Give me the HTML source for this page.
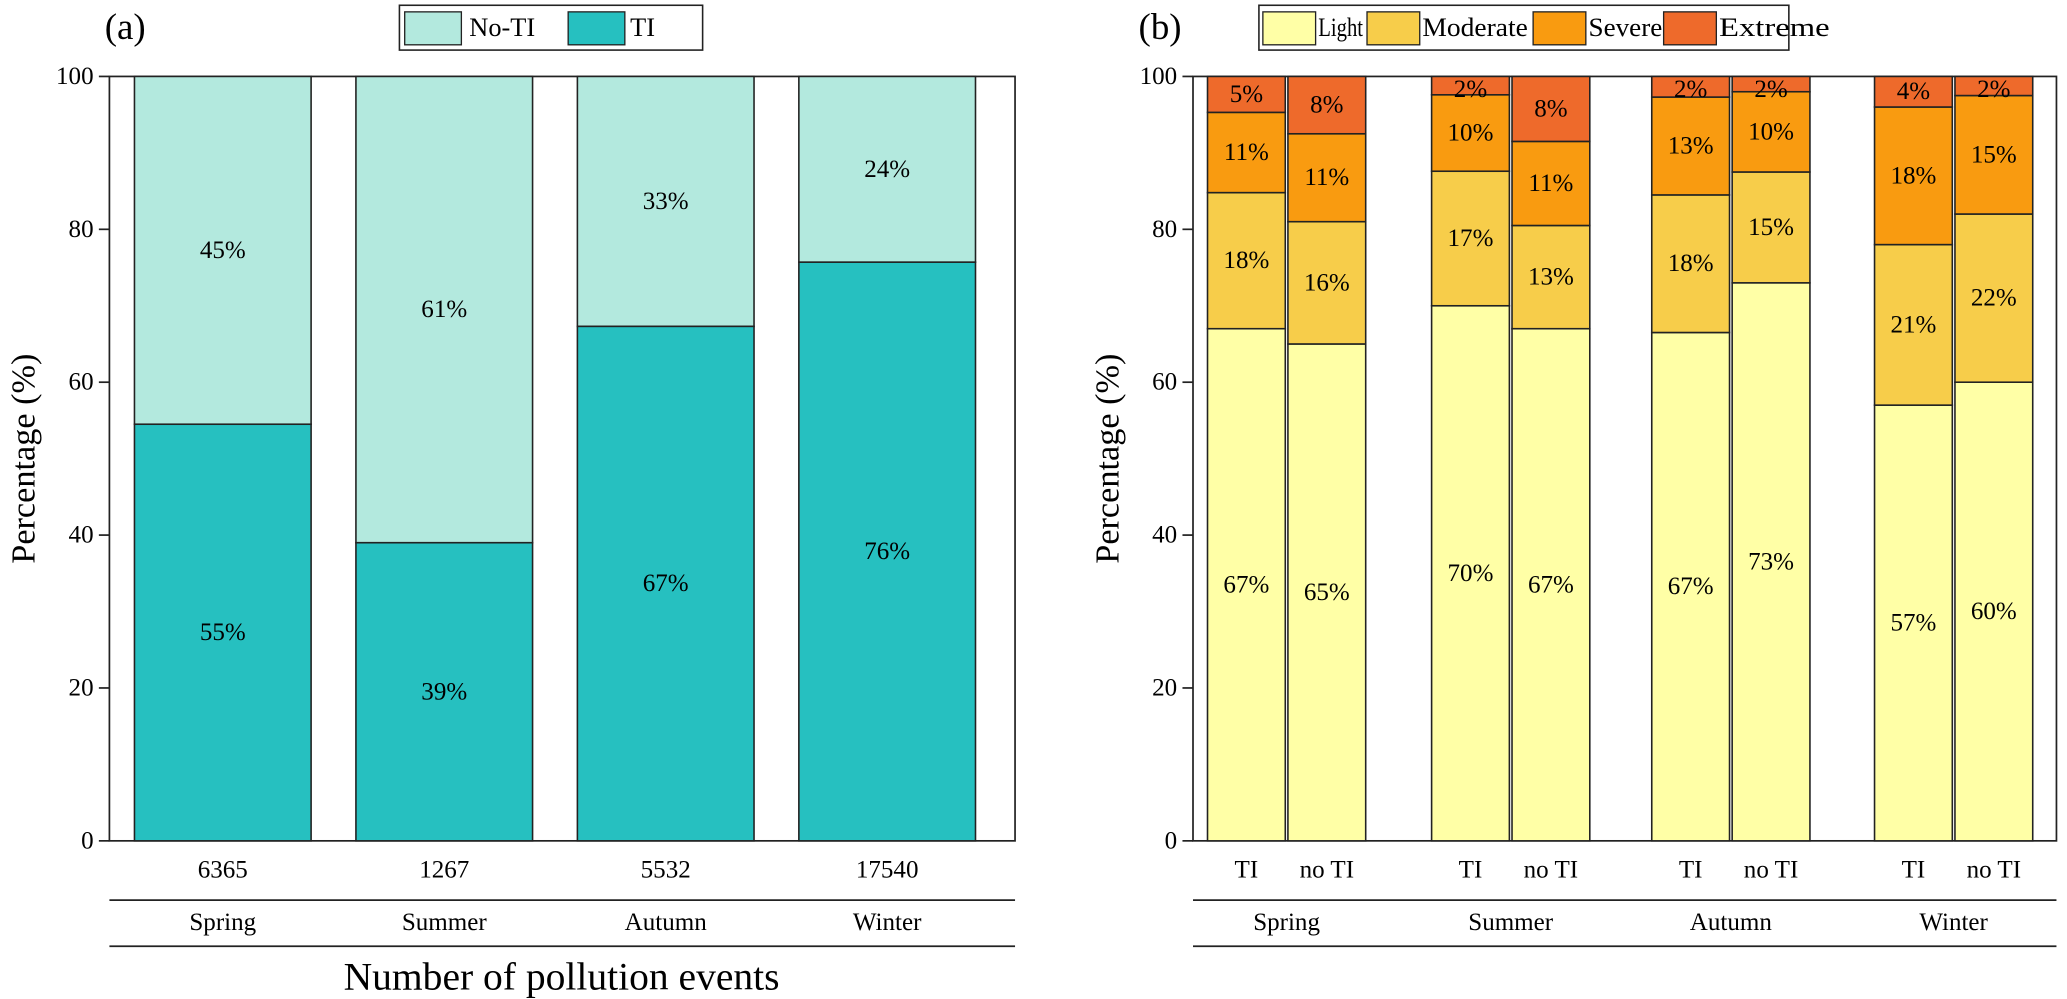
<!DOCTYPE html>
<html><head><meta charset="utf-8"><style>
html,body{margin:0;padding:0;background:#fff;}
svg{display:block;font-family:"Liberation Serif",serif;}
svg text{font-family:"Liberation Serif","DejaVu Serif",serif;}
</style></head><body>
<svg id="chart" width="2067" height="999" viewBox="0 0 1568 758" preserveAspectRatio="none"></svg>
<script>
const seasons=["Spring","Summer","Autumn","Winter"];
const eventCounts=["6365","1267","5532","17540"];
const tiShare=[54.5,39,67.3,75.7];
const tiLabels=["55%","39%","67%","76%"];
const noTiLabels=["45%","61%","33%","24%"];
const yTicks=[0,20,40,60,80,100];
const levelNames=["Light","Moderate","Severe","Extreme"];
const lightVals=[67,65,70,67,66.5,73,57,60];
const moderateVals=[17.8,16,17.6,13.5,18,14.5,21,22];
const severeVals=[10.5,11.5,10,11,12.8,10.5,18,15.5];
const lightLabels=["67%","65%","70%","67%","67%","73%","57%","60%"];
const moderateLabels=["18%","16%","17%","13%","18%","15%","21%","22%"];
const severeLabels=["11%","11%","10%","11%","13%","10%","18%","15%"];
const extremeLabels=["5%","8%","2%","8%","2%","2%","4%","2%"];
const groupLabels=["TI","no TI"];

const NS="http://www.w3.org/2000/svg";
const svg=document.getElementById('chart');
function mk(tag,attrs,parent){const e=document.createElementNS(NS,tag);for(const k in attrs)e.setAttribute(k,attrs[k]);(parent||svg).appendChild(e);return e;}
function txt(s,x,y,size,anchor,parent){const t=mk('text',{x:x,y:y,'font-size':size,'font-family':'Liberation Serif, serif','text-anchor':anchor||'middle','dominant-baseline':'central',fill:'#000'},parent);t.textContent=s;return t;}
const yTop=58,yBot=638;
const yS=v=>yBot-(v/100)*(yBot-yTop);

function axes(x0,x1,name){
  const g=mk('g',{});
  
  
  mk('rect',{x:x0,y:yTop,width:x1-x0,height:yBot-yTop,fill:'none',stroke:'#222','stroke-width':1.3},g);
  yTicks.forEach(v=>{mk('line',{x1:x0-8,x2:x0,y1:yS(v),y2:yS(v),stroke:'#222','stroke-width':1.3},g);
    const t=txt(String(v),x0-12,yS(v),19,'end',g);
    
    });
  mk('line',{x1:x0,x2:x1,y1:683,y2:683,stroke:'#222','stroke-width':1.3},g);
  mk('line',{x1:x0,x2:x1,y1:718,y2:718,stroke:'#222','stroke-width':1.3},g);
  const yt=txt('Percentage (%)',0,0,26,'middle',g);
  yt.setAttribute('transform','translate('+(x0-65)+',348) rotate(-90)');
  
  
}

axes(83,770,'panel-a');
const pa=txt('(a)',95,20,28,'middle');


const aX=[102,270,438,606], aW=134;
seasons.forEach((s,i)=>{
  const x=aX[i];
  const r1=mk('rect',{x:x,y:yS(100),width:aW,height:yS(tiShare[i])-yS(100),fill:'#b3e9de',stroke:'#222','stroke-width':1.2});
  
  
  const r2=mk('rect',{x:x,y:yS(tiShare[i]),width:aW,height:yBot-yS(tiShare[i]),fill:'#26c0c0',stroke:'#222','stroke-width':1.2});
  
  
  txt(noTiLabels[i],x+aW/2,yS((100+tiShare[i])/2),19);
  txt(tiLabels[i],x+aW/2,yS(tiShare[i]/2),19);
  const c=txt(eventCounts[i],x+aW/2,660,19);
  
  
  const sl=txt(s,x+aW/2,700,19);
  
  
});
const xt=txt('Number of pollution events',426,741,30);


const la=mk('g',{});


mk('rect',{x:303,y:4,width:230,height:34,fill:'#fff',stroke:'#222','stroke-width':1.2},la);
mk('rect',{x:307,y:9,width:43,height:25,fill:'#b3e9de',stroke:'#222','stroke-width':1},la);
txt('No-TI',356,21,20,'start',la);
mk('rect',{x:431,y:9,width:43,height:25,fill:'#26c0c0',stroke:'#222','stroke-width':1},la);
txt('TI',478,21,20,'start',la);

axes(905,1560,'panel-b');
const pb=txt('(b)',880,20,28,'middle');


const bX=[916,977,1086,1147,1253,1314,1422,1483], bW=59;
const cols=['#ffffa6','#f7cd4a','#f99b10','#ee6a2b'];
lightVals.forEach((lv,i)=>{
  const segs=[lv,moderateVals[i],severeVals[i],100-lv-moderateVals[i]-severeVals[i]];
  const labs=[lightLabels[i],moderateLabels[i],severeLabels[i],extremeLabels[i]];
  let acc=0;
  segs.forEach((v,k)=>{
    const r=mk('rect',{x:bX[i],y:yS(acc+v),width:bW,height:yS(acc)-yS(acc+v),fill:cols[k],stroke:'#222','stroke-width':1.2});
    
    
    let ly=yS(acc+v/2);
    if(k===3) ly=Math.max(yS(acc+v/2),yS(100)+10);
    txt(labs[k],bX[i]+bW/2,ly,19);
    acc+=v;
  });
  const gl=txt(groupLabels[i%2],bX[i]+bW/2,660,19);
  
  
});
seasons.forEach((s,j)=>{
  const sl=txt(s,(bX[2*j]+bX[2*j+1]+bW)/2,700,19);
  
  
});
const lb=mk('g',{});


mk('rect',{x:955,y:4,width:402,height:34,fill:'#fff',stroke:'#222','stroke-width':1.2},lb);
const lx=[958,1037,1163,1262];
const lw=[34,80,56,84];
levelNames.forEach((n,k)=>{
  mk('rect',{x:lx[k],y:9,width:40,height:25,fill:cols[k],stroke:'#222','stroke-width':1},lb);
  const t=txt(n,lx[k]+42,21,20,'start',lb);
  t.setAttribute('textLength',lw[k]);
  t.setAttribute('lengthAdjust','spacingAndGlyphs');
});
</script>
</body></html>
